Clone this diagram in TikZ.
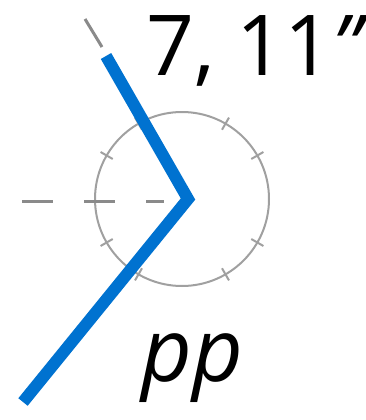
\documentclass[tikz,border=0pt]{standalone}
\usepackage{fontspec}
\setmainfont{Open Sans}
\usetikzlibrary{calc}
\definecolor{armblue}{HTML}{0072D0}
\definecolor{axisgray}{HTML}{8A8A8A}
\definecolor{dialgray}{HTML}{A0A0A0}

\begin{document}
\begin{tikzpicture}[x=1pt,y=-1pt,
 arm/.style={draw=armblue,line width=12pt,line join=miter},
 guide/.style={draw=axisgray,line width=3pt},
 tick/.style={draw=dialgray,line width=2pt},
 dial/.style={circle,draw=dialgray,line width=2pt,minimum size=174pt,inner sep=0pt}]
\useasboundingbox (0,0) rectangle (366,420);
\node[dial] (dial) at (182,199) {};
% dial ticks
\foreach \a in {30,60,120,150,210,240,300,330}
 \draw[tick] ($(dial.center)+(\a:80)$) -- ($(dial.center)+(\a:94)$);
\coordinate (vtx) at (188,199);
\coordinate (armtop) at (106,56);
\coordinate (armbot) at (23,402);
\coordinate (ext) at (85,19);
\coordinate (exttip) at (102,47);
\coordinate (hstart) at (22,201);
\coordinate (hend) at (164,201);
% reference lines
\draw[guide] (ext) -- (exttip);
\draw[guide,dash pattern=on 31pt off 31pt] (hstart) -- (hend);
\draw[arm] (armtop) -- (vtx) -- (armbot);
\node[anchor=base west,inner sep=0pt,font=\fontsize{84}{90}\selectfont] (hinge) at (146,75) {7, 11{\itshape"}};
\node[anchor=base west,inner sep=0pt,font=\fontsize{88}{94}\selectfont\itshape] (mark) at (141,381) {pp};
\end{tikzpicture}
\end{document}
